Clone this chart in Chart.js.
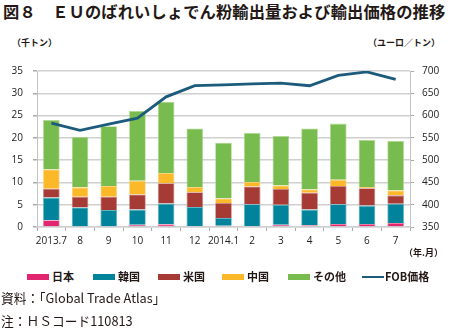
<!DOCTYPE html>
<html>
<head>
<meta charset="utf-8">
<script src="https://cdn.jsdelivr.net/npm/chart.js@4"></script>
<style>
  body { margin: 0; background: #fff; }
  #wrap { position: relative; width: 450px; height: 332px; overflow: hidden; font-family: "Noto Sans CJK JP", sans-serif; color: #231815; }
  .abs { position: absolute; white-space: nowrap; }
  #title { left: 3px; top: -1px; font-size: 16.3px; font-weight: 700; letter-spacing: 0.1px; }
  .unit { font-size: 9px; font-weight: 700; }
  #chartBox { position: absolute; left: 0; top: 55px; width: 450px; height: 195px; }
  .leg { position: absolute; top: 268px; font-size: 11px; font-weight: 700; line-height: 16px; }
  .sw { display: inline-block; width: 22px; height: 6px; vertical-align: middle; margin-right: 3px; position: relative; top: -1px; }
  .note { font-size: 13px; transform: scaleX(0.98); transform-origin: left; }
</style>
</head>
<body>
<div id="wrap">
  <div id="title" class="abs">図８　ＥＵのばれいしょでん粉輸出量および輸出価格の推移</div>
  <div class="abs unit" style="left:12px; top:36px;">（千トン）</div>
  <div class="abs unit" style="left:368px; top:36px;">（ユーロ／トン）</div>
  <div id="chartBox"><canvas id="chart"></canvas></div>
  <div class="abs unit" style="left:404px; top:246px;">（年.月）</div>
  <div id="legend"></div>
  <div class="abs note" style="left:1px; top:288px;">資料：「Global Trade Atlas」</div>
  <div class="abs note" style="left:1px; top:311px;">注：ＨＳコード110813</div>
</div>
<script>
// EU potato starch exports (thousand t) by destination + FOB price (EUR/t)
const months = ['2013.7','8','9','10','11','12','2014.1','2','3','4','5','6','7'];
const japan = [1.5, 0, 0, 0.5, 0.6, 0.2, 0.3, 0.2, 0.5, 0.4, 0.7, 0.7, 0.9];
const korea = [5.1, 4.4, 3.8, 3.4, 4.65, 4.3, 1.7, 4.9, 4.5, 3.5, 4.4, 4.1, 4.3];
const usa = [2.0, 2.4, 3.0, 3.4, 4.55, 3.3, 3.4, 4.0, 3.5, 3.8, 4.1, 3.9, 1.9];
const china = [4.3, 2.1, 2.4, 3.1, 2.3, 1.2, 1.0, 1.0, 0.8, 0.7, 1.4, 0.3, 1.1];
const other = [11.1, 11.3, 13.4, 15.6, 16.0, 13.1, 12.5, 11.0, 11.1, 13.7, 12.6, 10.5, 11.1];
const fobPrice = [583, 567, 581, 594, 642, 667, 669, 671, 673, 667, 690, 698, 681];

const seriesNames = ['日本', '韓国', '米国', '中国', 'その他'];
const seriesColors = ['#e2256f', '#00839b', '#a63b36', '#fbb829', '#78bc4f'];
const seriesEdges = ['#ec7fa6', '#5fb3c2', '#c98580', '#fdd37c', '#b0d98f'];
const lineColor = '#1d5b7c';

const barData = [japan, korea, usa, china, other];
const datasets = barData.map((d, i) => ({
    type: 'bar', label: seriesNames[i], data: d,
    backgroundColor: seriesColors[i], borderColor: seriesEdges[i], borderWidth: 0.8,
    yAxisID: 'y', order: 1, barPercentage: 0.58, categoryPercentage: 1
}));
datasets.push({
    type: 'line', label: 'FOB価格', data: fobPrice, yAxisID: 'y1', order: 0,
    borderColor: lineColor, backgroundColor: lineColor, borderWidth: 2.8,
    pointRadius: 0, tension: 0, fill: false
});

// html legend
const legendPos = [27, 93, 158, 222, 288, 362];
const legend = document.getElementById('legend');
datasets.forEach((ds, i) => {
    const item = document.createElement('div');
    item.className = 'leg';
    item.style.left = legendPos[i] + 'px';
    const isLine = ds.type === 'line';
    item.innerHTML = `<span class="sw" style="background:${isLine ? lineColor : ds.backgroundColor};${isLine ? 'height:2.5px;margin-right:1px;' : ''}"></span>${ds.label}`;
    legend.appendChild(item);
});

const tickFont = { family: '"Open Sans", sans-serif', size: 10 };
new Chart(document.getElementById('chart'), {
    data: { labels: months, datasets },
    options: {
        responsive: true, maintainAspectRatio: false, animation: false,
        layout: { padding: { top: 12, left: 0, right: 0, bottom: 0 } },
        plugins: { legend: { display: false }, tooltip: { enabled: false } },
        scales: {
            x: {
                stacked: true,
                grid: { display: true, drawOnChartArea: false, tickLength: 4, color: '#aaa', offset: true },
                border: { color: '#d0d0d0', width: 1.5 },
                ticks: { font: tickFont, color: '#222', padding: 4, maxRotation: 0, autoSkip: false },
                afterFit: s => { s.height = 23; }
            },
            y: {
                stacked: true, position: 'left', min: 0, max: 35,
                grid: { color: '#d0d0d0', lineWidth: 1.5, tickLength: 4, tickColor: '#aaa' },
                border: { color: '#c4c4c4', width: 1 },
                ticks: { stepSize: 5, font: tickFont, color: '#222', padding: 10 },
                afterFit: s => { s.width = 37; }
            },
            y1: {
                position: 'right', min: 350, max: 700,
                grid: { drawOnChartArea: false, tickLength: 4, color: '#aaa' },
                border: { color: '#c4c4c4', width: 1 },
                ticks: { stepSize: 50, font: tickFont, color: '#222', padding: 8 },
                afterFit: s => { s.width = 40; }
            }
        }
    }
});
</script>
</body>
</html>
